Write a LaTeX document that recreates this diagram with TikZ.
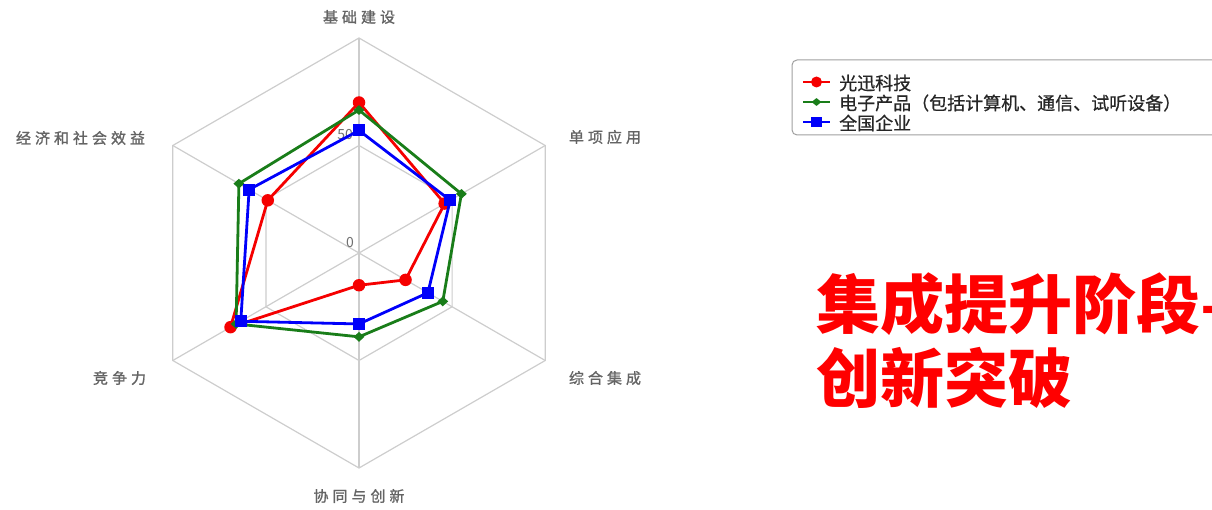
\documentclass[tikz,border=0pt]{standalone}
\usepackage{fontspec}
\setmainfont{Noto Sans CJK SC}
\newfontfamily\labfont[FakeBold=1.2]{Noto Sans CJK SC}
\newfontfamily\legfont[FakeBold=0.6]{Noto Sans CJK SC}
\usetikzlibrary{shapes.geometric}
\definecolor{gridc}{RGB}{205,205,205}
\definecolor{labc}{RGB}{100,100,100}
\definecolor{numc}{RGB}{110,110,110}
\definecolor{rc}{RGB}{245,0,0}
\definecolor{gc}{RGB}{25,125,25}
\definecolor{bc}{RGB}{0,0,250}
\newcommand\ls{\hspace{4pt}}
\newcommand\radarseries[7]{%
  \coordinate (#1-1) at (90:{#2*2.15});
  \coordinate (#1-2) at (30:{#3*2.15});
  \coordinate (#1-3) at (-30:{#4*2.15});
  \coordinate (#1-4) at (-90:{#5*2.15});
  \coordinate (#1-5) at (-150:{#6*2.15});
  \coordinate (#1-6) at (150:{#7*2.15});
}
\begin{document}
\begin{tikzpicture}[x=1pt,y=1pt,
  gridline/.style={draw=gridc,line width=1.2pt},
  axlab/.style={font=\labfont\fontsize{15}{15}\selectfont,text=labc,inner sep=0},
  numlab/.style={font=\fontsize{14}{14}\selectfont,text=numc,inner sep=0,anchor=east},
  redline/.style={draw=rc,line width=2.8pt,line join=round},
  greenline/.style={draw=gc,line width=2.8pt,line join=round},
  blueline/.style={draw=bc,line width=2.8pt,line join=round},
  redmark/.style={circle,fill=rc,draw=none,minimum size=12.5pt,inner sep=0},
  greenmark/.style={diamond,fill=gc,draw=none,minimum width=11pt,minimum height=10pt,inner sep=0},
  bluemark/.style={rectangle,fill=bc,draw=none,minimum size=12pt,inner sep=0},
  legtext/.style={font=\legfont\fontsize{18}{18}\selectfont,text=black!85,anchor=west,inner sep=0},
  bigtext/.style={font=\bfseries\fontsize{64}{64}\selectfont,text=red,anchor=west,inner sep=0}]
\useasboundingbox (0,0) rectangle (1212,509);
\clip (0,0) rectangle (1212,509);
\begin{scope}[shift={(359,256)}]
  \foreach \a in {90,30,-30,-90,-150,150} \draw[gridline] (0,0) -- (\a:215);
  \draw[gridline] (90:215) -- (30:215) -- (-30:215) -- (-90:215) -- (-150:215) -- (150:215) -- cycle;
  \draw[gridline] (90:107.5) -- (30:107.5) -- (-30:107.5) -- (-90:107.5) -- (-150:107.5) -- (150:107.5) -- cycle;
  \radarseries{r}{70}{46}{25}{15}{69}{49}
  \radarseries{g}{66.5}{55}{45}{39}{66}{64.5}
  \radarseries{b}{57}{49}{37}{33}{63.5}{59}
  \draw[redline] (r-1) -- (r-2) -- (r-3) -- (r-4) -- (r-5) -- (r-6) -- cycle;
  \foreach \i in {1,...,6} \node[redmark] (rm\i) at (r-\i) {};
  \draw[greenline] (g-1) -- (g-2) -- (g-3) -- (g-4) -- (g-5) -- (g-6) -- cycle;
  \foreach \i in {1,...,6} \node[greenmark] (gm\i) at (g-\i) {};
  \node[numlab] (n50) at (-6,118) {50};
  \node[numlab] (n0) at (-5,10) {0};
  \draw[blueline] (b-1) -- (b-2) -- (b-3) -- (b-4) -- (b-5) -- (b-6) -- cycle;
  \foreach \i in {1,...,6} \node[bluemark] (bm\i) at (b-\i) {};
\end{scope}
% axis labels
\node[axlab] (l1) at (359,492) {基\ls 础\ls 建\ls 设};
\node[axlab] (l2) at (605,372) {单\ls 项\ls 应\ls 用};
\node[axlab] (l3) at (605,131) {综\ls 合\ls 集\ls 成};
\node[axlab] (l4) at (359,13) {协\ls 同\ls 与\ls 创\ls 新};
\node[axlab] (l5) at (119.5,131) {竞\ls 争\ls 力};
\node[axlab] (l6) at (80.5,371) {经\ls 济\ls 和\ls 社\ls 会\ls 效\ls 益};
% legend
\draw[draw=gray!75,line width=1pt,rounded corners=5pt] (792,449) rectangle (1240,374);
\coordinate (la1) at (803,427); \coordinate (lb1) at (830,427);
\coordinate (la2) at (803,407); \coordinate (lb2) at (830,407);
\coordinate (la3) at (803,387); \coordinate (lb3) at (830,387);
\draw[redline] (la1) -- (lb1);
\node[redmark,minimum size=11pt] (lm1) at (816.5,427) {};
\draw[greenline] (la2) -- (lb2);
\node[greenmark,minimum width=10pt,minimum height=8pt] (lm2) at (816.5,407) {};
\draw[blueline] (la3) -- (lb3);
\node[bluemark,minimum width=11pt,minimum height=10pt] (lm3) at (816.5,387) {};
\node[legtext] (lt1) at (839,426) {光迅科技};
\node[legtext] (lt2) at (839,406) {电子产品（包括计算机、通信、试听设备）};
\node[legtext] (lt3) at (839,386) {全国企业};
% big text
\node[bigtext] (t1) at (816,205) {集成提升阶段—};
\node[bigtext] (t2) at (816,131.5) {创新突破};
\end{tikzpicture}
\end{document}
